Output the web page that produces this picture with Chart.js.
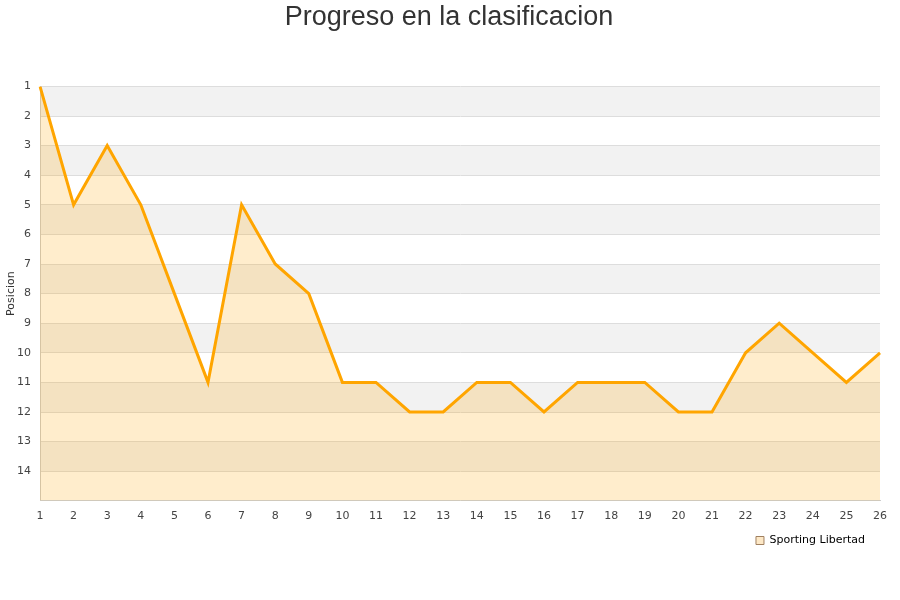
<!DOCTYPE html>
<html>
<head>
<meta charset="utf-8">
<script src="https://cdn.jsdelivr.net/npm/chart.js@4/dist/chart.umd.min.js"></script>
<style>
  html, body { margin: 0; padding: 0; background: #fff; }
</style>
</head>
<body>
<canvas id="chart" width="900" height="600"></canvas>
<script>
// Jornadas y posiciones
const jornadas = ["1","2","3","4","5","6","7","8","9","10","11","12","13","14","15","16","17","18","19","20","21","22","23","24","25","26"];
const posiciones = [1, 5, 3, 5, 8, 11, 5, 7, 8, 11, 11, 12, 12, 11, 11, 12, 11, 11, 11, 12, 12, 10, 9, 10, 11, 10];
const equipo = "Sporting Libertad";
const posMin = 1;
const posMax = 15;

// alternating grey bands behind the plot
const bandPlugin = {
  id: "bands",
  beforeDraw: (chart) => {
    const ctx = chart.ctx;
    const area = chart.chartArea;
    const y = chart.scales.y;
    ctx.save();
    ctx.fillStyle = "#f2f2f2";
    for (let v = posMin; v < posMax; v += 2) {
      const top = y.getPixelForValue(v);
      const bottom = y.getPixelForValue(v + 1);
      ctx.fillRect(area.left, top, area.right - area.left, bottom - top);
    }
    ctx.restore();
  }
};

const ctx = document.getElementById("chart").getContext("2d");
new Chart(ctx, {
  type: "line",
  data: {
    labels: jornadas,
    datasets: [{
      label: equipo,
      data: posiciones,
      borderColor: "#ffa500",
      backgroundColor: "rgba(255,165,0,0.2)",
      borderWidth: 3,
      pointRadius: 0,
      tension: 0,
      fill: { value: posMax }
    }]
  },
  options: {
    responsive: false,
    animation: false,
    layout: { padding: { left: 18, right: 20, top: 0, bottom: 44 } },
    plugins: {
      title: {
        display: true,
        text: "Progreso en la clasificacion",
        color: "#333",
        font: { family: "Liberation Sans", size: 27, weight: "normal" },
        padding: { top: 1, bottom: 53 }
      },
      legend: {
        position: "bottom",
        align: "end",
        labels: {
          color: "#111",
          boxWidth: 8,
          boxHeight: 8,
          padding: 15,
          font: { family: "DejaVu Sans", size: 11 },
          generateLabels: (chart) => [{
            text: equipo,
            fillStyle: "#fde8c6",
            strokeStyle: "#a08060",
            lineWidth: 1,
            datasetIndex: 0
          }]
        }
      },
      tooltip: { enabled: false }
    },
    scales: {
      x: {
        offset: false,
        grid: { display: false, drawTicks: false },
        border: { color: "#ccc" },
        ticks: { color: "#444", font: { family: "DejaVu Sans", size: 11 }, padding: 9, maxRotation: 0, autoSkip: false },
        afterFit: (scale) => { scale.height -= 12; }
      },
      y: {
        reverse: true,
        min: posMin,
        max: posMax,
        grid: { color: "#dddddd", drawTicks: false },
        border: { color: "#ccc" },
        title: { display: true, text: "Posicion", color: "#333", font: { family: "DejaVu Sans", size: 11 }, padding: { top: -13, bottom: 0 } },
        ticks: {
          stepSize: 1,
          color: "#444",
          padding: 9,
          font: { family: "DejaVu Sans", size: 11 },
          callback: (v) => (v < posMax ? v : "")
        },
        afterFit: (scale) => { scale.width = 22; }
      }
    }
  },
  plugins: [bandPlugin]
});
</script>
</body>
</html>
